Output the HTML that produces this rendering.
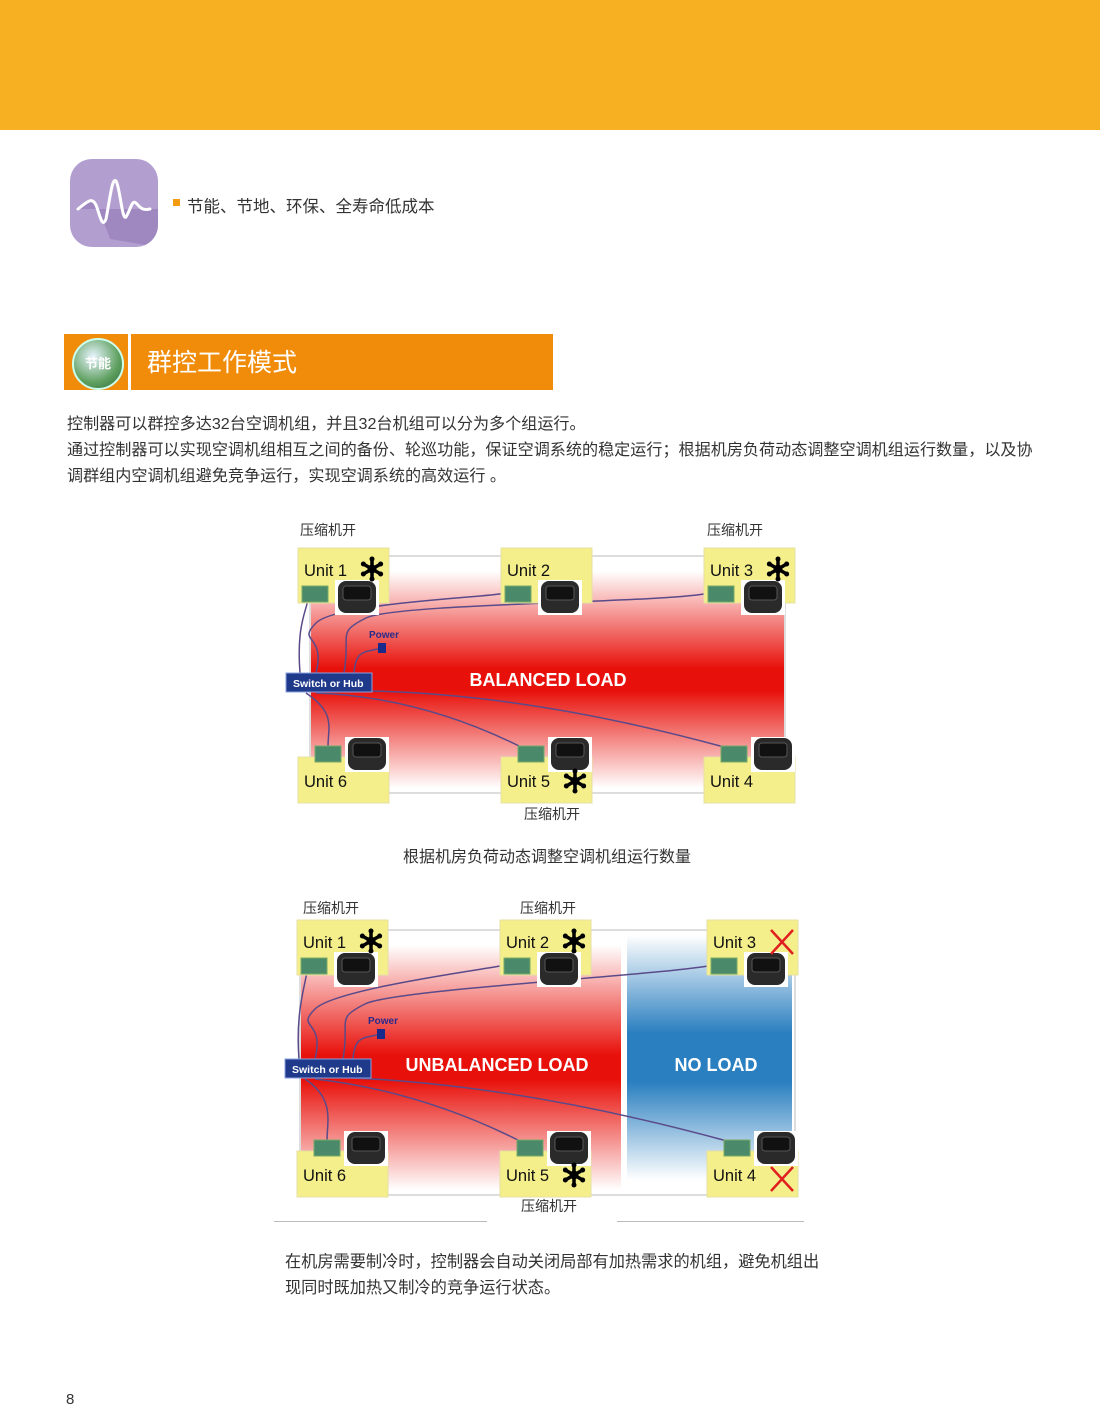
<!DOCTYPE html>
<html><head><meta charset="utf-8">
<style>
body{margin:0;width:1100px;height:1414px;position:relative;background:#fff;font-family:"Liberation Sans","Noto Sans CJK SC",sans-serif;color:#333;overflow:hidden}
.a{position:absolute;white-space:nowrap}
</style></head><body>
<div class="a" style="left:0;top:0;width:1100px;height:130px;background:#f6b021"></div>
<div class="a" style="left:70px;top:159px;width:88px;height:88px;border-radius:22px;background:#b39ed0;overflow:hidden">
<svg width="88" height="88"><path d="M8 50 C20 40 22 38 28 48 L40 80 L88 88 L88 50 Z" fill="#9f88c0"/>
<path d="M8 50 C18 42 22 38 26 46 C30 56 32 70 36 60 C40 40 42 18 46 22 C50 28 52 62 56 58 C60 52 62 40 66 44 C70 48 72 52 80 50" stroke="#fff" stroke-width="3" fill="none" stroke-linecap="round"/></svg></div>
<div class="a" style="left:173px;top:199px;width:7px;height:7px;background:#f39c12"></div>
<div class="a" style="left:187px;top:193px;font-size:16.5px">节能、节地、环保、全寿命低成本</div>
<div class="a" style="left:64px;top:334px;width:64px;height:56px;background:#f08c0a"></div>
<div class="a" style="left:131px;top:334px;width:422px;height:56px;background:#f08c0a"></div>
<div class="a" style="left:72px;top:338px;width:48px;height:48px;border-radius:50%;background:radial-gradient(circle at 40% 35%,#e8f5ff,#5fa060 60%,#2d6a3a);border:2px solid #cfe;font-size:13px;color:#fff;text-align:center;line-height:48px;font-weight:bold">节能</div>
<div class="a" style="left:147px;top:343px;font-size:25px;color:#fff">群控工作模式</div>
<div class="a" style="left:67px;top:411px;font-size:16.1px;line-height:26px">控制器可以群控多达32台空调机组，并且32台机组可以分为多个组运行。<br>通过控制器可以实现空调机组相互之间的备份、轮巡功能，保证空调系统的稳定运行；根据机房负荷动态调整空调机组运行数量，以及协<br>调群组内空调机组避免竞争运行，实现空调系统的高效运行 。</div>
<div class="a" style="left:300px;top:520px;font-size:14px">压缩机开</div>
<div class="a" style="left:707px;top:520px;font-size:14px">压缩机开</div>
<div class="a" style="left:524px;top:804px;font-size:14px">压缩机开</div>
<div class="a" style="left:403px;top:843px;font-size:16px">根据机房负荷动态调整空调机组运行数量</div>
<div class="a" style="left:303px;top:898px;font-size:14px">压缩机开</div>
<div class="a" style="left:520px;top:898px;font-size:14px">压缩机开</div>
<div class="a" style="left:521px;top:1196px;font-size:14px">压缩机开</div>
<div class="a" style="left:274px;top:1221px;width:213px;height:1px;background:#bbb"></div>
<div class="a" style="left:617px;top:1221px;width:187px;height:1px;background:#bbb"></div>
<div class="a" style="left:285px;top:1249px;font-size:16.2px;line-height:26px">在机房需要制冷时，控制器会自动关闭局部有加热需求的机组，避免机组出<br>现同时既加热又制冷的竞争运行状态。</div>
<div class="a" style="left:66px;top:1391px;font-size:15px">8</div>
<svg id="s" class="a" style="left:0;top:0" width="1100" height="1414">
<defs>
<linearGradient id="rg" x1="0" y1="0" x2="0" y2="1"><stop offset="0" stop-color="#fff"/><stop offset="0.45" stop-color="#e8100a"/><stop offset="0.55" stop-color="#e8100a"/><stop offset="1" stop-color="#fff"/></linearGradient>
<linearGradient id="bg" x1="0" y1="0" x2="0" y2="1"><stop offset="0" stop-color="#fff"/><stop offset="0.4" stop-color="#2a7fc0"/><stop offset="0.6" stop-color="#2a7fc0"/><stop offset="1" stop-color="#fff"/></linearGradient>
</defs>
</svg>
<script>
var s=document.getElementById('s'),h='';
function flake(x,y){var r='';for(var i=0;i<3;i++){var a=Math.PI/2+i*Math.PI/3,dx=Math.cos(a)*10,dy=Math.sin(a)*10;r+='<line x1="'+(x-dx)+'" y1="'+(y-dy)+'" x2="'+(x+dx)+'" y2="'+(y+dy)+'" stroke="#000" stroke-width="3.5"/><circle cx="'+(x-dx)+'" cy="'+(y-dy)+'" r="2.5"/><circle cx="'+(x+dx)+'" cy="'+(y+dy)+'" r="2.5"/>';}return r+'<circle cx="'+x+'" cy="'+y+'" r="4.5" fill="#000"/>';}
function cross(x,y){return '<path d="M'+(x-11)+' '+(y-12)+'L'+(x+11)+' '+(y+12)+'M'+(x+11)+' '+(y-12)+'L'+(x-11)+' '+(y+12)+'" stroke="#e02020" stroke-width="2.5"/>';}
function unit(bx,by,top,name,mark){
 var r='<rect x="'+bx+'" y="'+by+'" width="91" height="'+(top?55:46)+'" fill="#f4ef8a" stroke="#e6e0a0"/>';
 var ly=top?by+28:by+30;
 r+='<text x="'+(bx+6)+'" y="'+ly+'" font-size="16.5" fill="#111" font-family="Liberation Sans">'+name+'</text>';
 var cy=top?by+33:by-19, cx=top?bx+40:bx+50, gx=top?bx+4:bx+17, gy=top?by+38:by-11;
 r+='<rect x="'+(cx-3)+'" y="'+(cy-1)+'" width="44" height="35" fill="#fff"/><rect x="'+cx+'" y="'+cy+'" width="38" height="32" rx="8" fill="#2a2a2a"/><rect x="'+(cx+5)+'" y="'+(cy+5)+'" width="28" height="14" rx="3" fill="#111" stroke="#555"/>';
 r+='<rect x="'+gx+'" y="'+gy+'" width="26" height="16" fill="#4a8a6a" stroke="#7a6"/>';
 if(mark=='f')r+=flake(bx+74,top?by+21:by+24);
 if(mark=='x')r+=cross(bx+75,top?by+22:by+28);
 return r;}
function diag(o){
 var r='<rect x="'+o.rx+'" y="'+o.ry+'" width="'+o.rw+'" height="'+o.rh+'" fill="none" stroke="#ddd" stroke-width="2"/>';
 r+='<rect x="'+(o.rx+1)+'" y="'+(o.ry+15)+'" width="'+o.redw+'" height="'+(o.rh-20)+'" fill="url(#rg)"/>';
 if(o.blue)r+='<rect x="'+o.blue[0]+'" y="'+(o.ry+5)+'" width="'+o.blue[1]+'" height="'+(o.rh-20)+'" fill="url(#bg)"/>';
 var sx=o.sx,sy=o.sy;
 var U=o.u;
 var L=function(d){return '<path d="'+d+'" stroke="#5a4a8a" stroke-width="1.5" fill="none"/>';};
 r+=L('M'+(sx+14)+' '+sy+' C'+(sx+10)+' '+(sy-50)+' '+(U[0][0]+10)+' '+(U[0][1]+60)+' '+(U[0][0]+10)+' '+(U[0][1]+50));
 r+=L('M'+(sx+30)+' '+sy+' C'+(sx+40)+' '+(sy-40)+' '+(sx+10)+' '+(sy-30)+' '+(sx+30)+' '+(sy-50)+' S'+(U[1][0]-20)+' '+(U[1][1]+50)+' '+(U[1][0]+6)+' '+(U[1][1]+45));
 r+=L('M'+(sx+58)+' '+sy+' C'+(sx+65)+' '+(sy-40)+' '+(sx+50)+' '+(sy-40)+' '+(sx+80)+' '+(sy-55)+' S'+(U[2][0]-40)+' '+(U[2][1]+55)+' '+(U[2][0]+6)+' '+(U[2][1]+45));
 r+=L('M'+(sx+68)+' '+sy+' C'+(sx+70)+' '+(sy-25)+' '+(sx+80)+' '+(sy-20)+' '+(sx+95)+' '+(sy-25));
 r+='<rect x="'+(sx+92)+'" y="'+(sy-30)+'" width="8" height="10" fill="#1a2a8a"/><text x="'+(sx+83)+'" y="'+(sy-35)+'" font-size="10" font-weight="bold" fill="#2a2a8a" font-family="Liberation Sans">Power</text>';
 r+=L('M'+(sx+20)+' '+(sy+20)+' C'+(sx+50)+' '+(sy+40)+' '+(U[5][0]+30)+' '+(U[5][1]-30)+' '+(U[5][0]+30)+' '+(U[5][1]-10));
 r+=L('M'+(sx+30)+' '+(sy+20)+' Q'+(U[4][0]-80)+' '+(U[4][1]-60)+' '+(U[4][0]+20)+' '+(U[4][1]-10));
 r+=L('M'+(sx+40)+' '+(sy+18)+' Q'+(U[3][0]-200)+' '+(U[3][1]-70)+' '+(U[3][0]+20)+' '+(U[3][1]-10));
 r+='<rect x="'+sx+'" y="'+sy+'" width="86" height="19" fill="#1f3a8a" stroke="#8aa0e0"/><text x="'+(sx+7)+'" y="'+(sy+14)+'" font-size="10.5" font-weight="bold" fill="#fff" font-family="Liberation Sans">Switch or Hub</text>';
 r+='<text x="'+o.tx+'" y="'+o.ty+'" font-size="18" font-weight="bold" fill="#fff" text-anchor="middle" font-family="Liberation Sans">'+o.t+'</text>';
 if(o.t2)r+='<text x="'+o.t2[1]+'" y="'+o.ty+'" font-size="18" font-weight="bold" fill="#fff" text-anchor="middle" font-family="Liberation Sans">'+o.t2[0]+'</text>';
 var n=['Unit 1','Unit 2','Unit 3','Unit 4','Unit 5','Unit 6'];
 for(var i=0;i<6;i++)r+=unit(U[i][0],U[i][1],i<3,n[i],o.m[i]);
 return r;}
h+=diag({rx:310,ry:556,rw:475,rh:237,redw:473,sx:286,sy:673,tx:548,ty:686,t:'BALANCED LOAD',
 u:[[298,548],[501,548],[704,548],[704,757],[501,757],[298,757]],m:['f','','f','','f','']});
h+=diag({rx:300,ry:930,rw:495,rh:265,redw:320,blue:[627,165],sx:285,sy:1059,tx:497,ty:1071,t:'UNBALANCED LOAD',t2:['NO LOAD',716],
 u:[[297,920],[500,920],[707,920],[707,1151],[500,1151],[297,1151]],m:['f','f','x','x','f','']});
s.insertAdjacentHTML('beforeend',h);
</script>
</body></html>
